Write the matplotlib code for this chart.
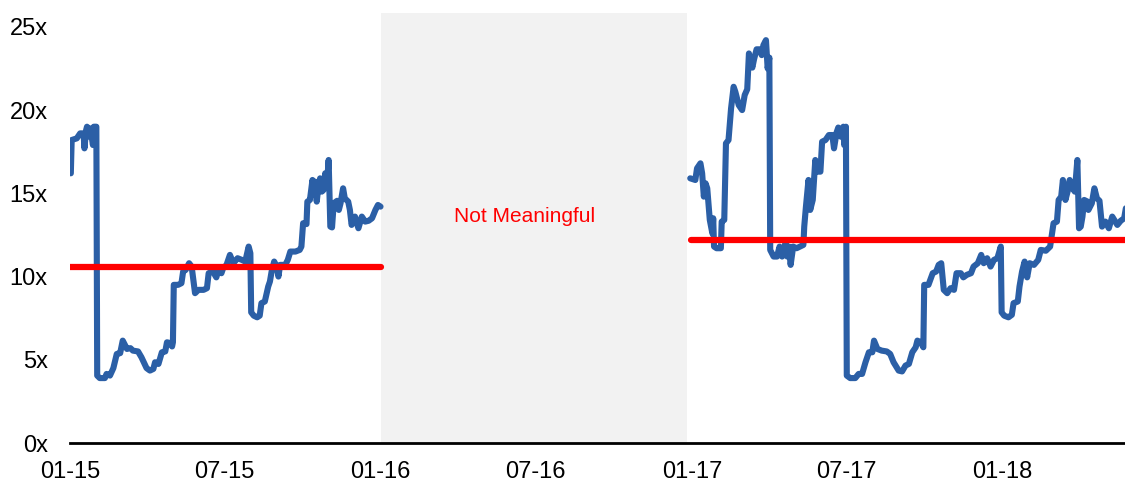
#!/usr/bin/env python
"""
Forward multiple chart with two observation windows and their averages
"""

import numpy as np
import pandas as pd
import matplotlib.pyplot as plt
import matplotlib.dates as mdates

plt.rcParams['font.family'] = ['Liberation Sans', 'DejaVu Sans']

# --------------------
# data: days since 2015-01-01 and multiple (x)
start = pd.Timestamp('2015-01-01')

days_1 = [1, 2, 8, 12, 16, 17, 19, 20, 23, 24, 27, 28, 31, 32, 35, 41, 43, 47,
          51, 55, 59, 62, 67, 71, 74, 80, 84, 90, 94, 98, 100, 104, 108, 112,
          114, 118, 120, 121, 122, 127, 131, 133, 136, 140, 143, 147, 151, 157,
          161, 163, 168, 172, 174, 178, 180, 184, 188, 192, 197, 202, 206, 210,
          212, 213, 216, 220, 223, 225, 229, 233, 235, 237, 240, 243, 245, 247,
          253, 256, 259, 265, 270, 272, 274, 278, 279, 282, 285, 286, 288, 290,
          292, 294, 296, 298, 300, 302, 304, 306, 308, 310, 314, 316, 318, 321,
          323, 327, 329, 331, 335, 339, 343, 347, 351, 355, 359, 362, 365]
mult_1 = [16.2, 18.2, 18.3, 18.6, 18.6, 17.7, 18.8, 19.0, 18.4, 18.9, 17.9,
          19.0, 19.0, 4.05, 3.9, 3.9, 4.15, 4.05, 4.5, 5.35, 5.4, 6.15, 5.65,
          5.7, 5.55, 5.5, 5.15, 4.5, 4.35, 4.45, 4.85, 4.75, 5.45, 5.5, 6.05,
          6.0, 5.8, 6.05, 9.5, 9.5, 9.6, 10.3, 10.4, 10.8, 10.6, 9.0, 9.2, 9.2,
          9.3, 10.2, 10.3, 9.95, 10.3, 10.2, 10.5, 10.7, 11.3, 10.8, 11.1, 11.0,
          10.9, 11.8, 11.4, 7.85, 7.65, 7.55, 7.65, 8.4, 8.5, 9.4, 9.7, 10.3,
          10.9, 10.6, 10.0, 10.7, 10.7, 11.0, 11.5, 11.5, 11.6, 11.8, 13.2,
          13.15, 14.5, 14.6, 15.8, 15.2, 15.7, 14.5, 15.4, 15.9, 15.1, 15.2,
          16.2, 15.5, 17.0, 13.0, 12.95, 14.4, 14.55, 14.0, 14.4, 15.3, 14.7,
          14.5, 14.0, 13.1, 13.6, 12.9, 13.6, 13.3, 13.35, 13.5, 14.0, 14.3,
          14.2]

days_2 = [729, 735, 737, 741, 743, 745, 747, 749, 752, 755, 756, 757, 760, 765,
          766, 769, 771, 774, 777, 780, 782, 786, 790, 793, 796, 798, 800, 802,
          804, 807, 811, 813, 815, 818, 820, 822, 823, 827, 831, 834, 837, 841,
          843, 845, 847, 850, 854, 858, 862, 863, 865, 868, 870, 873, 876, 878,
          882, 884, 888, 892, 896, 898, 901, 903, 906, 909, 910, 912, 913, 917,
          923, 927, 931, 935, 939, 943, 945, 949, 954, 960, 964, 968, 974, 978,
          982, 986, 990, 994, 996, 1000, 1003, 1004, 1009, 1014, 1018, 1021,
          1024, 1027, 1031, 1035, 1039, 1042, 1047, 1050, 1054, 1059, 1062,
          1067, 1071, 1074, 1078, 1082, 1086, 1090, 1094, 1095, 1098, 1103,
          1107, 1109, 1114, 1116, 1119, 1122, 1125, 1128, 1133, 1138, 1141,
          1147, 1152, 1156, 1160, 1162, 1165, 1167, 1170, 1173, 1175, 1177,
          1181, 1184, 1186, 1188, 1190, 1192, 1196, 1197, 1201, 1204, 1207,
          1210, 1213, 1217, 1221, 1225, 1231, 1235, 1239, 1241]
mult_2 = [15.9, 15.8, 16.5, 16.8, 16.2, 14.8, 15.6, 15.3, 13.4, 12.6, 13.5,
          11.8, 11.7, 11.7, 13.3, 13.4, 18.0, 18.2, 20.1, 21.4, 21.1, 20.3,
          20.0, 20.9, 21.25, 23.4, 22.95, 22.55, 23.05, 23.65, 23.65, 23.3,
          23.9, 24.2, 22.5, 23.15, 11.6, 11.2, 11.2, 11.8, 11.2, 12.0, 11.2,
          11.8, 10.7, 11.8, 11.7, 11.8, 11.9, 13.0, 14.2, 15.8, 14.0, 14.6,
          17.0, 16.3, 16.3, 18.1, 18.2, 18.5, 18.5, 17.7, 18.65, 18.95, 18.4,
          19.0, 17.9, 19.0, 4.05, 3.9, 3.9, 4.15, 4.15, 4.85, 5.45, 5.45, 6.15,
          5.65, 5.55, 5.5, 5.35, 4.85, 4.35, 4.3, 4.65, 4.75, 5.45, 5.75, 6.15,
          6.05, 5.75, 9.5, 9.5, 10.2, 10.3, 10.7, 10.8, 9.2, 9.0, 9.3, 9.2,
          10.2, 10.2, 9.95, 10.1, 10.2, 10.6, 10.8, 11.3, 10.8, 11.1, 10.6,
          11.0, 11.1, 11.8, 7.85, 7.65, 7.55, 7.7, 8.4, 8.5, 9.4, 10.3, 10.9,
          9.95, 10.8, 10.7, 11.0, 11.6, 11.55, 11.8, 13.2, 13.3, 14.6, 14.8,
          15.8, 14.6, 15.2, 15.8, 15.4, 15.1, 17.0, 12.9, 13.0, 13.6, 14.6,
          14.5, 14.0, 14.4, 15.3, 14.7, 14.55, 13.0, 13.3, 12.9, 13.6, 13.1,
          13.35, 13.5, 14.1]

# period averages
avg_1 = 10.55
avg_2 = 12.2
avg_1_span = ('2015-01-01', '2016-01-01')
avg_2_span = ('2016-12-31', '2018-05-25')

# window with no meaningful multiple
nm_span = ('2016-01-01', '2016-12-26')
nm_label = 'Not Meaningful'
nm_label_at = ('2016-06-18', 13.3)

x_range = ('2015-01-01', '2018-05-25')
y_ticks = [0, 5, 10, 15, 20, 25]


def to_dates(days):
    return start + pd.to_timedelta(np.array(days), unit='D')


def main():
    fig = plt.figure(figsize=(11.25, 4.82), dpi=100)
    ax = fig.add_axes([0.0622, 0.0809, 0.9378, 0.8928])

    ax.axvspan(pd.Timestamp(nm_span[0]), pd.Timestamp(nm_span[1]),
               color='#f2f2f2', lw=0, zorder=0)

    blue = '#2b5fa6'
    for d, m in ((days_1, mult_1), (days_2, mult_2)):
        ax.plot(to_dates(d), m, color=blue, lw=4.4,
                solid_joinstyle='round', solid_capstyle='round', zorder=2)

    for val, span in ((avg_1, avg_1_span), (avg_2, avg_2_span)):
        ax.plot([pd.Timestamp(span[0]), pd.Timestamp(span[1])], [val, val],
                color='#ff0000', lw=4.5, solid_capstyle='round', zorder=3)

    ax.text(pd.Timestamp(nm_label_at[0]), nm_label_at[1], nm_label,
            color='#ff0000', fontsize=15, ha='center', va='baseline')

    ax.set_xlim(pd.Timestamp(x_range[0]), pd.Timestamp(x_range[1]))
    ax.set_ylim(0, 25.85)
    ax.set_yticks(y_ticks)
    ax.set_yticklabels(['%dx' % t for t in y_ticks])
    ax.xaxis.set_major_locator(mdates.MonthLocator(bymonth=[1, 7]))
    ax.xaxis.set_major_formatter(mdates.DateFormatter('%m-%y'))

    for side in ('top', 'right', 'left'):
        ax.spines[side].set_visible(False)
    ax.spines['bottom'].set_linewidth(2)
    ax.spines['bottom'].set_color('black')
    ax.tick_params(axis='both', length=0, labelsize=17, colors='black')
    ax.tick_params(axis='y', pad=16)
    ax.tick_params(axis='x', pad=13)

    fig.savefig('out.png', dpi=100)


# --------------------
if __name__ == '__main__':
    main()
